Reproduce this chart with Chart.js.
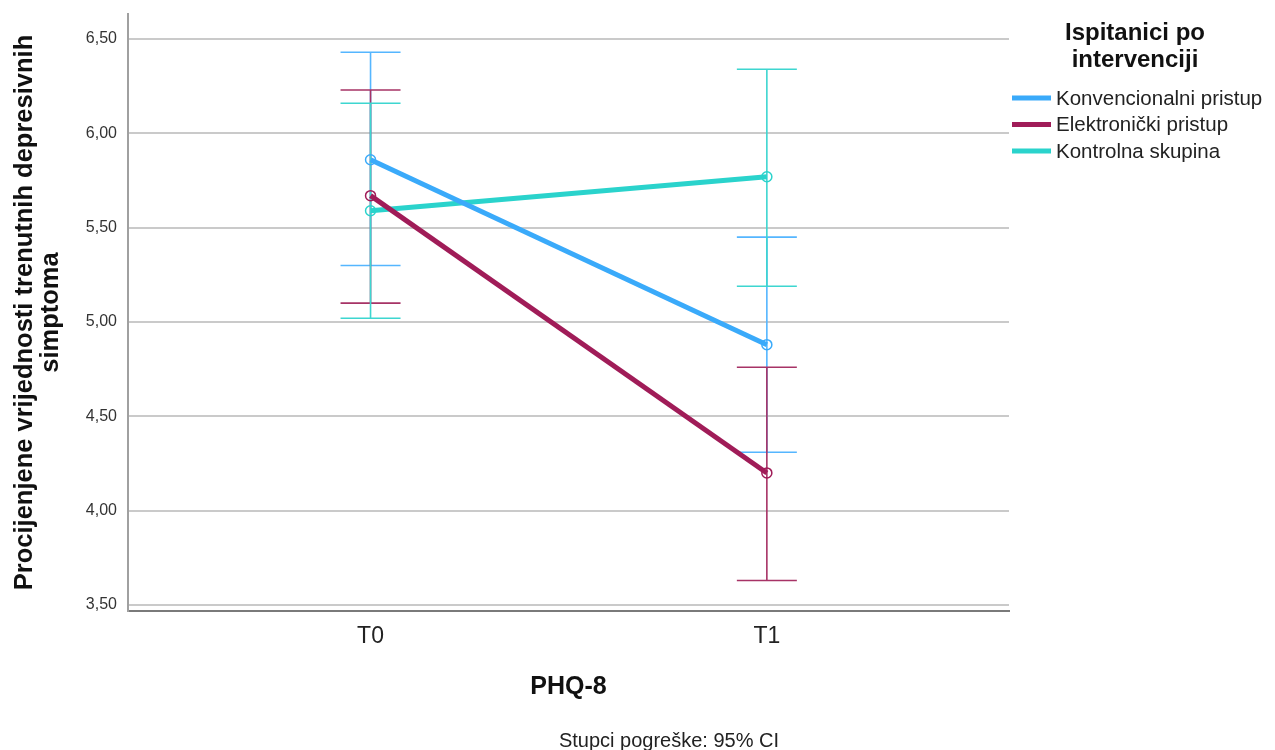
<!DOCTYPE html>
<html>
<head>
<meta charset="utf-8">
<title>PHQ-8</title>
<script src="https://cdn.jsdelivr.net/npm/chart.js@4.4.0/dist/chart.umd.min.js"></script>
<style>
  html, body { margin: 0; padding: 0; background: #ffffff; }
  #wrap { width: 1275px; height: 750px; }
</style>
</head>
<body>
<div id="wrap"><canvas id="chart" width="1275" height="750"></canvas></div>
<script>
// measurement points and groups
const timePoints = ['T0', 'T1'];
const groups = ['Konvencionalni pristup', 'Elektronički pristup', 'Kontrolna skupina'];

// estimated means with 95% CI per group
const konvencionalniMean = [5.86, 4.88];
const konvencionalniLower = [5.30, 4.31];
const konvencionalniUpper = [6.43, 5.45];

const elektronickiMean = [5.67, 4.20];
const elektronickiLower = [5.10, 3.63];
const elektronickiUpper = [6.23, 4.76];

const kontrolnaMean = [5.59, 5.77];
const kontrolnaLower = [5.02, 5.19];
const kontrolnaUpper = [6.16, 6.34];

const yTicks = [3.5, 4, 4.5, 5, 5.5, 6, 6.5];

const lineColors = ['#3aaafa', '#a01c58', '#2ad3cc'];
const barColors = ['#55b6ff', '#a73366', '#3dd6d0'];

function makeDataset(i, means, lower, upper) {
    return {
        label: groups[i],
        data: means.map((v, k) => ({ x: k, y: v })),
        errLower: lower,
        errUpper: upper,
        errColor: barColors[i],
        borderColor: lineColors[i],
        borderWidth: 5,
        pointRadius: 5,
        pointBorderWidth: 1.5,
        pointBorderColor: lineColors[i],
        pointBackgroundColor: 'rgba(255,255,255,0)',
        fill: false,
        tension: 0
    };
}

// 95% CI whiskers, drawn under the mean lines
const errorBars = {
    id: 'errorBars',
    beforeDatasetsDraw(chart) {
        const ctx = chart.ctx;
        const xs = chart.scales.x;
        const ys = chart.scales.y;
        const cap = 30;
        ctx.save();
        chart.data.datasets.forEach(ds => {
            ctx.strokeStyle = ds.errColor;
            ctx.lineWidth = 1.6;
            ds.data.forEach((pt, k) => {
                const x = xs.getPixelForValue(pt.x);
                const yLo = ys.getPixelForValue(ds.errLower[k]);
                const yHi = ys.getPixelForValue(ds.errUpper[k]);
                ctx.beginPath();
                ctx.moveTo(x, yHi);
                ctx.lineTo(x, yLo);
                ctx.moveTo(x - cap, yHi);
                ctx.lineTo(x + cap, yHi);
                ctx.moveTo(x - cap, yLo);
                ctx.lineTo(x + cap, yLo);
                ctx.stroke();
            });
        });
        ctx.restore();
    }
};

// legend on the right plus the footnote under the axis title
const sideLegend = {
    id: 'sideLegend',
    afterDraw(chart) {
        const ctx = chart.ctx;
        ctx.save();
        ctx.fillStyle = '#111111';
        ctx.textAlign = 'center';
        ctx.textBaseline = 'middle';
        ctx.font = 'bold 24px "Liberation Sans", Arial, sans-serif';
        ctx.fillText('Ispitanici po', 1135, 33);
        ctx.fillText('intervenciji', 1135, 60);

        ctx.textAlign = 'left';
        ctx.font = '20.5px "Liberation Sans", Arial, sans-serif';
        chart.data.datasets.forEach((ds, i) => {
            const y = 98 + i * 26.5;
            ctx.fillStyle = ds.borderColor;
            ctx.fillRect(1012, y - 2.5, 39, 5);
            ctx.fillStyle = '#222222';
            ctx.fillText(ds.label, 1056, y + 1);
        });

        ctx.textAlign = 'center';
        ctx.font = '20px "Liberation Sans", Arial, sans-serif';
        ctx.fillStyle = '#222222';
        ctx.fillText('Stupci pogreške: 95% CI', 669, 741);
        ctx.restore();
    }
};

new Chart(document.getElementById('chart').getContext('2d'), {
    type: 'line',
    data: {
        datasets: [
            makeDataset(0, konvencionalniMean, konvencionalniLower, konvencionalniUpper),
            makeDataset(1, elektronickiMean, elektronickiLower, elektronickiUpper),
            makeDataset(2, kontrolnaMean, kontrolnaLower, kontrolnaUpper)
        ]
    },
    options: {
        responsive: false,
        animation: false,
        devicePixelRatio: 1,
        layout: { padding: { top: 14, right: 266, left: 0, bottom: 0 } },
        plugins: {
            legend: { display: false },
            tooltip: { enabled: false }
        },
        scales: {
            x: {
                type: 'linear',
                min: -0.612,
                max: 1.611,
                afterBuildTicks: scale => { scale.ticks = timePoints.map((t, k) => ({ value: k })); },
                afterFit: scale => {
                    scale.height = 139;
                    scale.paddingLeft = 0;
                    scale.paddingRight = 0;
                },
                grid: { display: false, drawTicks: false },
                border: { display: true, color: '#7a7a7a', width: 2 },
                ticks: {
                    padding: 12,
                    color: '#222222',
                    font: { family: '"Liberation Sans", Arial, sans-serif', size: 23 },
                    callback: value => timePoints[value]
                },
                title: {
                    display: true,
                    text: 'PHQ-8',
                    color: '#111111',
                    font: { family: '"Liberation Sans", Arial, sans-serif', size: 25, weight: 'bold' },
                    padding: { top: 0, bottom: 48 }
                }
            },
            y: {
                min: 3.468,
                max: 6.633,
                afterBuildTicks: scale => { scale.ticks = yTicks.map(v => ({ value: v })); },
                afterFit: scale => {
                    scale.width = 128;
                    scale.paddingTop = 0;
                    scale.paddingBottom = 0;
                },
                grid: { color: '#cacaca', lineWidth: 2, drawTicks: false },
                border: { display: true, color: '#a0a0a0', width: 2 },
                ticks: {
                    padding: 11,
                    color: '#333333',
                    font: { family: '"Liberation Sans", Arial, sans-serif', size: 16 },
                    callback: value => value.toFixed(2).replace('.', ',')
                },
                title: {
                    display: true,
                    text: ['Procijenjene vrijednosti trenutnih depresivnih', 'simptoma'],
                    color: '#111111',
                    font: { family: '"Liberation Sans", Arial, sans-serif', size: 25.5, weight: 'bold', lineHeight: '26px' },
                    padding: { top: 12, bottom: 0 }
                }
            }
        }
    },
    plugins: [errorBars, sideLegend]
});
</script>
</body>
</html>
